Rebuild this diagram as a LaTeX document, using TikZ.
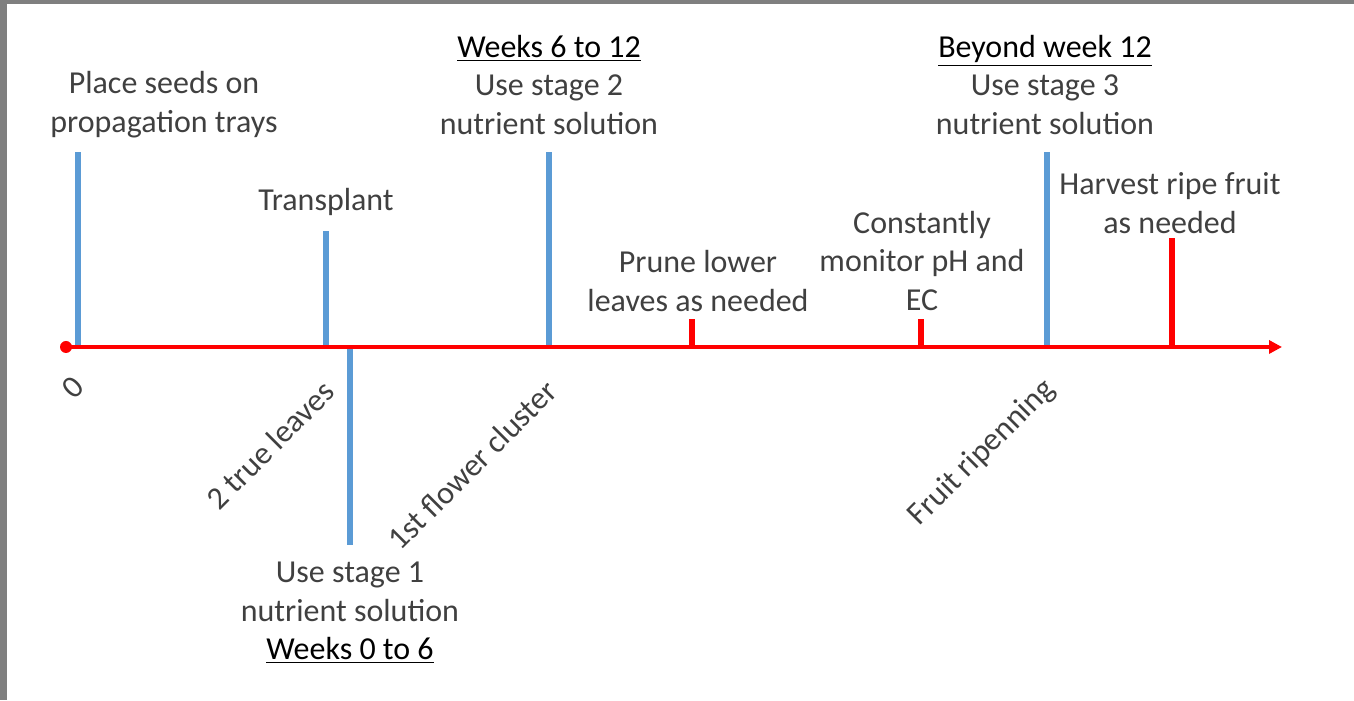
\documentclass[tikz,border=0pt]{standalone}
\usepackage{fontspec}
\setmainfont{Carlito}
\usepackage{xcolor}
\usepackage{tikz}
\usetikzlibrary{arrows.meta,positioning}
\definecolor{tickblue}{RGB}{91,155,213}
\definecolor{textgray}{RGB}{64,64,64}
\definecolor{framegray}{RGB}{127,127,127}
\tikzset{
  label/.style={text=textgray,align=center,inner sep=0pt},
  bluetick/.style={draw=tickblue,line width=0.115cm},
  redtick/.style={draw=red,line width=0.11cm}
}
\begin{document}
\begin{tikzpicture}[font=\fontsize{18.2}{21.9}\selectfont]
            \useasboundingbox (0,0) rectangle (27.08,14);
            % Frame
            \fill[framegray] (0,0) rectangle (0.14,14);
            \fill[framegray] (0,13.92) rectangle (27.08,14);

            % Points on the time axis
            \coordinate (start) at (1.32,7.06);
            \coordinate (end) at (25.64,7.06);
            \coordinate (sow) at (1.56,7.06);
            \coordinate (trans) at (6.52,7.06);
            \coordinate (stage1) at (7.00,7.06);
            \coordinate (stage2) at (10.98,7.06);
            \coordinate (prune) at (13.84,7.06);
            \coordinate (monitor) at (18.42,7.06);
            \coordinate (stage3) at (20.94,7.06);
            \coordinate (harvest) at (23.44,7.06);

            % Ticks
            \draw[bluetick] (sow) -- ++(0,3.9);
            \draw[bluetick] (trans) -- ++(0,2.32);
            \draw[bluetick] (stage1) -- ++(0,-3.96);
            \draw[bluetick] (stage2) -- ++(0,3.9);
            \draw[bluetick] (stage3) -- ++(0,3.9);
            \draw[redtick] (prune) -- ++(0,0.56);
            \draw[redtick] (monitor) -- ++(0,0.56);
            \draw[redtick] (harvest) -- ++(0,2.18);

            % Time axis
            \draw[red,line width=0.09cm,-{Triangle[length=0.26cm,width=0.26cm]}] (start) -- (end);
            \fill[red] (start) circle (0.12);

            % Above the axis
            \node[label] (seeds) at (3.28,11.91) {Place seeds on\\propagation trays};
            \node[label] (transplant) at (6.52,9.96) {Transplant};
            \node[label] (sol2) at (10.98,12.30) {\textcolor{black}{\underline{Weeks 6 to 12}}\\Use stage 2\\nutrient solution};
            \node[label] (prunetxt) at (13.96,8.38) {Prune lower\\leaves as needed};
            \node[label] (monitortxt) at (18.44,8.78) {Constantly\\monitor pH and\\EC};
            \node[label] (sol3) at (20.90,12.30) {\textcolor{black}{\underline{Beyond week 12}}\\Use stage 3\\nutrient solution};
            \node[label] (harvesttxt) at (23.40,9.94) {Harvest ripe fruit\\as needed};

            % Below the axis
            \node[label] (sol1) at (7.00,1.74) {Use stage 1\\nutrient solution\\\textcolor{black}{\underline{Weeks 0 to 6}}};
            \node[label,rotate=45] (zero) at (1.46,6.24) {0};
            \node[label,rotate=45] (leaves) at (5.40,5.10) {2 true leaves};
            \node[label,rotate=45] (flower) at (9.44,4.70) {1st flower cluster};
            \node[label,rotate=45] (ripen) at (19.64,4.94) {Fruit ripenning};
        \end{tikzpicture}
\end{document}
